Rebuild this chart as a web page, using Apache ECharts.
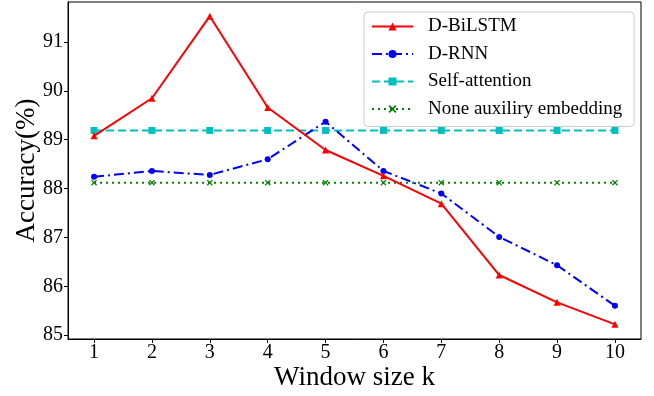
<!DOCTYPE html>
<html><head><meta charset="utf-8">
<script src="https://cdn.jsdelivr.net/npm/echarts@6/dist/echarts.min.js"></script>
<style>html,body{margin:0;padding:0;background:#fff}#c{width:654px;height:396px}</style>
</head><body><div id="c"></div>
<script>
const windowSizes = [1,2,3,4,5,6,7,8,9,10];
const yTicks = [85,86,87,88,89,90,91];
const dBiLSTM = [89.08,89.85,91.53,89.66,88.79,88.26,87.69,86.23,85.67,85.22];
const dRNN = [88.24,88.36,88.28,88.60,89.37,88.36,87.90,87.01,86.43,85.60];
const selfAttention = [89.19,89.19,89.19,89.19,89.19,89.19,89.19,89.19,89.19,89.19];
const noneAux = [88.12,88.12,88.12,88.12,88.12,88.12,88.12,88.12,88.12,88.12];

const F = '"Liberation Serif","Times New Roman",serif';
const pairs = a => windowSizes.map((x,i)=>[x,a[i]]);
const xMark = 'path://M0,1.5 L1.5,0 L5,3.5 L8.5,0 L10,1.5 L6.5,5 L10,8.5 L8.5,10 L5,6.5 L1.5,10 L0,8.5 L3.5,5 Z';

const chart = echarts.init(document.getElementById('c'), null, {renderer:'canvas'});
chart.setOption({
  animation:false,
  backgroundColor:'#fff',
  grid:{left:68,right:13,top:2,bottom:57,containLabel:false,outerBoundsMode:'none',show:true,borderColor:'#000',borderWidth:1,backgroundColor:'transparent'},
  xAxis:{type:'value',min:0.55,max:10.45,
    name:'Window size k',nameLocation:'middle',nameGap:25,nameMoveOverlap:false,
    nameTextStyle:{fontFamily:F,fontSize:27,color:'#000'},
    axisLine:{show:true,lineStyle:{color:'#000',width:1}},
    axisTick:{show:true,length:4,lineStyle:{color:'#000'},customValues:windowSizes},
    axisLabel:{fontFamily:F,fontSize:20,color:'#000',margin:4,customValues:windowSizes},
    splitLine:{show:false}},
  yAxis:{type:'value',min:84.92,max:91.82,
    name:'Accuracy(%)',nameLocation:'middle',nameGap:28,nameMoveOverlap:false,
    nameTextStyle:{fontFamily:F,fontSize:27,color:'#000'},
    axisLine:{show:true,lineStyle:{color:'#000',width:1}},
    axisTick:{show:true,length:4,lineStyle:{color:'#000'},customValues:yTicks},
    axisLabel:{fontFamily:F,fontSize:20,color:'#000',margin:5,customValues:yTicks},
    splitLine:{show:false}},
  legend:{orient:'vertical',left:364,top:12,
    padding:[5,12,8,7],itemGap:8.5,itemWidth:41,itemHeight:10,
    backgroundColor:'#fff',borderColor:'#ccc',borderWidth:1,borderRadius:4,
    textStyle:{fontFamily:F,fontSize:19,color:'#000',lineHeight:18,padding:[0,0,0,10]},
    data:['D-BiLSTM','D-RNN','Self-attention','None auxiliry embedding']},
  series:[
    {name:'Self-attention',type:'line',data:pairs(selfAttention),symbol:'rect',symbolSize:7,
      lineStyle:{color:'#00bfbf',width:2,type:[8,4]},itemStyle:{color:'#00bfbf'},z:2},
    {name:'None auxiliry embedding',type:'line',data:pairs(noneAux),symbol:xMark,symbolSize:6,
      lineStyle:{color:'#008000',width:2,type:[2,4]},itemStyle:{color:'#008000'},z:2},
    {name:'D-RNN',type:'line',data:pairs(dRNN),symbol:'circle',symbolSize:6,
      lineStyle:{color:'#0000ff',width:2,type:[10,4,2,4]},itemStyle:{color:'#0000ff'},z:3},
    {name:'D-BiLSTM',type:'line',data:pairs(dBiLSTM),symbol:'triangle',symbolSize:7,
      lineStyle:{color:'#ff0000',width:2,type:'solid'},itemStyle:{color:'#ff0000'},z:4}
  ]
});
</script></body></html>
